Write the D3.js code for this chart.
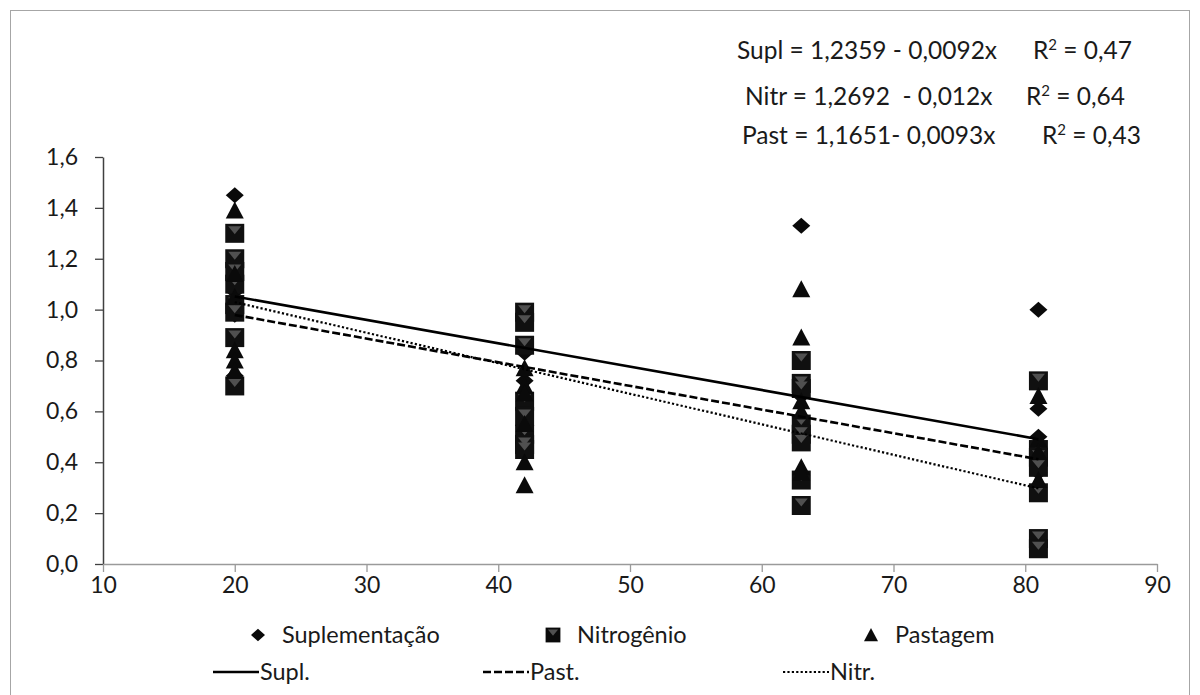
<!DOCTYPE html>
<html lang="pt">
<head>
<meta charset="utf-8">
<title>Regressão por dia</title>
<script src="https://cdn.jsdelivr.net/npm/d3@7"></script>
<style>
  body { margin: 0; background: #fff; }
  text { font-family: Lato, "Open Sans", sans-serif; fill: #1a1a1a; white-space: pre; }
</style>
</head>
<body>
<script>

// dias de avaliação (eixo x)
var dias = [20, 42, 63, 81];

// valores lidos em cada dia, um array por dia
var suplementacao = [
  [1.45, 1.17, 1.12, 1.07, 1.03, 0.98, 0.74],
  [0.83, 0.72, 0.65, 0.60, 0.57],
  [1.33, 0.66, 0.57, 0.53],
  [1.00, 0.61, 0.50, 0.40, 0.36]
];
var nitrogenio = [
  [1.30, 1.20, 1.15, 1.10, 1.02, 0.99, 0.89, 0.70],
  [0.99, 0.95, 0.86, 0.64, 0.58, 0.51, 0.47, 0.45],
  [0.80, 0.71, 0.69, 0.55, 0.51, 0.48, 0.33, 0.23],
  [0.72, 0.45, 0.42, 0.38, 0.28, 0.10, 0.06]
];
var pastagem = [
  [1.39, 1.14, 1.05, 0.84, 0.80, 0.76],
  [0.77, 0.70, 0.67, 0.55, 0.40, 0.31],
  [1.08, 0.89, 0.64, 0.60, 0.38, 0.36],
  [0.66, 0.49, 0.44, 0.33]
];

// retas de regressão: Supl, Past, Nitr
var intercepto = [1.2359, 1.1651, 1.2692];
var inclinacao = [-0.0092, -0.0093, -0.012];
var faixaX = [20, 81];

var equacoes = ["Supl = 1,2359 - 0,0092x", "Nitr = 1,2692  - 0,012x", "Past = 1,1651- 0,0093x"];
var r2 = ["0,47", "0,64", "0,43"];

var legendaPontos = ["Suplementação", "Nitrogênio", "Pastagem"];
var legendaLinhas = ["Supl.", "Past.", "Nitr."];

var xTicks = [10, 20, 30, 40, 50, 60, 70, 80, 90];
var yTicks = [0, 0.2, 0.4, 0.6, 0.8, 1.0, 1.2, 1.4, 1.6];

// Width and height
var w = 1200;
var h = 695;

var xScale = d3.scaleLinear().domain([10, 90]).range([103, 1157]);
var yScale = d3.scaleLinear().domain([0, 1.6]).range([564, 157]);

var svg = d3.select("body")
            .append("svg")
            .attr("width", w)
            .attr("height", h);

// moldura
svg.append("rect")
   .attr("x", 10.5).attr("y", 10.5)
   .attr("width", 1179).attr("height", 700)
   .attr("fill", "none")
   .attr("stroke", "#a6a6a6");

var fmt = function(d) { return d3.format(".1f")(d).replace(".", ","); };

// eixo y
var yAxis = svg.append("g")
   .attr("transform", "translate(" + xScale(10) + ",0)")
   .call(d3.axisLeft(yScale).tickValues(yTicks).tickFormat(fmt).tickSize(8).tickSizeOuter(0));
yAxis.select(".domain").attr("stroke", "#404040").attr("stroke-width", 1.5);
yAxis.selectAll(".tick line").attr("stroke", "#404040").attr("stroke-width", 1.3);
yAxis.selectAll(".tick text")
     .attr("x", -25)
     .style("font-family", "Lato, sans-serif")
     .style("font-size", "23px")
     .attr("fill", "#1a1a1a");

// eixo x
var xAxis = svg.append("g")
   .attr("transform", "translate(0," + yScale(0) + ")")
   .call(d3.axisBottom(xScale).tickValues(xTicks).tickFormat(d3.format("d")).tickSize(8).tickSizeOuter(0));
xAxis.select(".domain").attr("stroke", "#9a9a9a").attr("stroke-width", 1.5);
xAxis.selectAll(".tick line").attr("stroke", "#9a9a9a").attr("stroke-width", 1.3);
xAxis.selectAll(".tick text")
     .attr("y", 13)
     .style("font-family", "Lato, sans-serif")
     .style("font-size", "23px")
     .attr("fill", "#1a1a1a");

// formas dos marcadores (k = escala)
function losango(x, y, k) {
  k = k || 1;
  return "M" + x + "," + (y - 8 * k) + "L" + (x + 9 * k) + "," + y + "L" + x + "," + (y + 8 * k) + "L" + (x - 9 * k) + "," + y + "Z";
}
function triangulo(x, y, k) {
  k = k || 1;
  return "M" + x + "," + (y - 9 * k) + "L" + (x + 9 * k) + "," + (y + 8 * k) + "L" + (x - 9 * k) + "," + (y + 8 * k) + "Z";
}
function quadrado(x, y, k) {
  k = k || 1;
  return "M" + (x - 9.5 * k) + "," + (y - 9.5 * k) + "h" + (19 * k) + "v" + (19 * k) + "h" + (-19 * k) + "Z";
}
function sombra(x, y, k) {
  k = k || 1;
  return "M" + (x - 6.5 * k) + "," + (y - 7 * k) + "L" + (x + 6.5 * k) + "," + (y - 7 * k) + "L" + x + "," + (y + 1 * k) + "Z";
}

// achata os dados em pares [dia, valor]
function pares(serie) {
  var out = [];
  serie.forEach(function(vals, i) {
    vals.forEach(function(v) { out.push([dias[i], v]); });
  });
  return out;
}

// Suplementação - losangos
svg.append("g").selectAll("path")
   .data(pares(suplementacao))
   .enter()
   .append("path")
   .attr("d", function(d) { return losango(xScale(d[0]), yScale(d[1])); })
   .attr("fill", "#0a0a0a");

// Nitrogênio - quadrados
var gN = svg.append("g");
gN.selectAll("path.q")
   .data(pares(nitrogenio))
   .enter()
   .append("path")
   .attr("class", "q")
   .attr("d", function(d) { return quadrado(xScale(d[0]), yScale(d[1])); })
   .attr("fill", "#101010");
gN.selectAll("path.s")
   .data(pares(nitrogenio))
   .enter()
   .append("path")
   .attr("class", "s")
   .attr("d", function(d) { return sombra(xScale(d[0]), yScale(d[1])); })
   .attr("fill", "#505050");

// Pastagem - triângulos
svg.append("g").selectAll("path")
   .data(pares(pastagem))
   .enter()
   .append("path")
   .attr("d", function(d) { return triangulo(xScale(d[0]), yScale(d[1])); })
   .attr("fill", "#0a0a0a");

// retas
var estilos = [
  { dash: null, width: 2.6 },
  { dash: "8,3", width: 2.6 },
  { dash: "2.2,2.2", width: 2.2 }
];
var linha = d3.line()
              .x(function(d) { return xScale(d[0]); })
              .y(function(d) { return yScale(d[1]); });

intercepto.forEach(function(a, i) {
  var pts = faixaX.map(function(x) { return [x, a + inclinacao[i] * x]; });
  svg.append("path")
     .attr("d", linha(pts))
     .attr("fill", "none")
     .attr("stroke", "#000")
     .attr("stroke-width", estilos[i].width)
     .attr("stroke-dasharray", estilos[i].dash);
});

// equações
var eqX = [737, 745, 742];
var r2X = [1033, 1026, 1042];
var eqY = [59, 105, 144];
svg.selectAll("text.eq")
   .data(equacoes)
   .enter()
   .append("text")
   .attr("class", "eq")
   .attr("x", function(d, i) { return eqX[i]; })
   .attr("y", function(d, i) { return eqY[i]; })
   .style("font-size", "24.5px")
   .text(function(d) { return d; });

var r2t = svg.selectAll("text.r2")
   .data(r2)
   .enter()
   .append("text")
   .attr("class", "r2")
   .attr("x", function(d, i) { return r2X[i]; })
   .attr("y", function(d, i) { return eqY[i]; })
   .style("font-size", "24.5px");
r2t.append("tspan").text("R");
r2t.append("tspan").attr("dy", -9).style("font-size", "15px").text("2");
r2t.append("tspan").attr("dy", 9).text(function(d) { return " = " + d; });

// legenda - pontos
var legX = [258, 553, 871];
var formas = [losango, quadrado, triangulo];
legendaPontos.forEach(function(nome, i) {
  svg.append("path")
     .attr("d", formas[i](legX[i], 635, 0.78))
     .attr("fill", "#0a0a0a");
  if (i === 1) {
    svg.append("path").attr("d", sombra(legX[i], 635, 0.78)).attr("fill", "#505050");
  }
  svg.append("text")
     .attr("x", legX[i] + 24)
     .attr("y", 643)
     .style("font-size", "23.5px")
     .text(nome);
});

// legenda - linhas
var linX = [213, 483, 783];
legendaLinhas.forEach(function(nome, i) {
  svg.append("line")
     .attr("x1", linX[i]).attr("x2", linX[i] + 46)
     .attr("y1", 672).attr("y2", 672)
     .attr("stroke", "#000")
     .attr("stroke-width", estilos[i].width)
     .attr("stroke-dasharray", estilos[i].dash);
  svg.append("text")
     .attr("x", linX[i] + 47)
     .attr("y", 680)
     .style("font-size", "23.5px")
     .text(nome);
});

</script>
</body>
</html>
